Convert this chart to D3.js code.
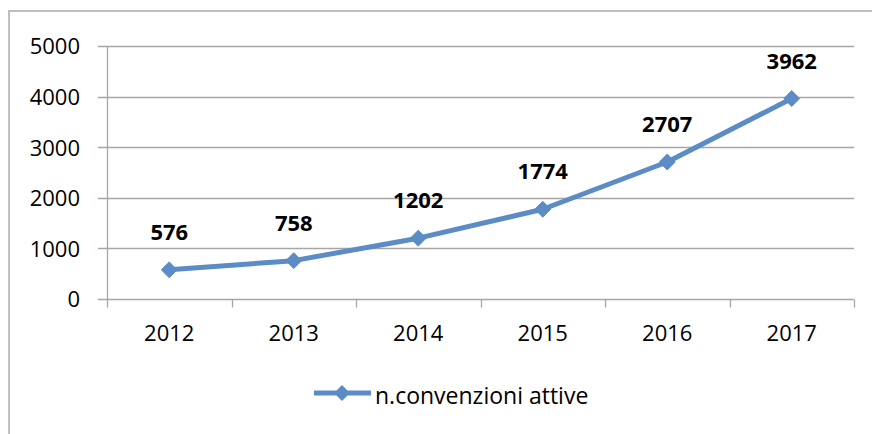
<!DOCTYPE html>
<html>
<head>
<meta charset="utf-8">
<script src="https://cdn.jsdelivr.net/npm/d3@7"></script>
<style>
  body { margin: 0; background: #fff; }
  svg { display: block; }
</style>
</head>
<body>
<div id="d3-container"></div>
<script>
// dati
const years = ["2012", "2013", "2014", "2015", "2016", "2017"];
const convenzioni = [576, 758, 1202, 1774, 2707, 3962];
const yTicks = [0, 1000, 2000, 3000, 4000, 5000];
const seriesName = "n.convenzioni attive";

const width = 872;
const height = 434;
const margin = { top: 46, bottom: 135, left: 107, right: 18 };
const color = "#5B8CC5";
const font = "'Open Sans', sans-serif";

const svg = d3.select("#d3-container")
    .append("svg")
    .attr("width", width)
    .attr("height", height);

// cornice del grafico
svg.append("rect")
    .attr("x", 9).attr("y", 11)
    .attr("width", width).attr("height", height)
    .attr("fill", "none")
    .attr("stroke", "#BFBFBF")
    .attr("stroke-width", 2);

const x = d3.scaleBand()
    .domain(years)
    .range([margin.left, width - margin.right])
    .padding(0);

const y = d3.scaleLinear()
    .domain([0, 5000])
    .range([height - margin.bottom, margin.top]);

// griglia
svg.append("g")
    .selectAll("line")
    .data(yTicks)
    .join("line")
    .attr("x1", margin.left - 9)
    .attr("x2", width - margin.right)
    .attr("y1", d => Math.round(y(d)) + 0.5)
    .attr("y2", d => Math.round(y(d)) + 0.5)
    .attr("stroke", "#A6A6A6")
    .attr("stroke-width", 1.3);

function yAxis(g) {
    g.attr("transform", `translate(${margin.left},0)`)
        .call(d3.axisLeft(y).tickValues(yTicks).tickFormat(d3.format("d")).tickSize(0).tickPadding(27))
        .call(g => g.select(".domain").attr("stroke", "#A6A6A6").attr("stroke-width", 1.3))
        .attr("font-family", font)
        .attr("font-size", "22px")
        .call(g => g.selectAll("text").attr("fill", "#000").attr("dy", "0.36em"));
}

function xAxis(g) {
    const y0 = Math.round(y(0)) + 0.5;
    g.attr("transform", `translate(0,${y0})`)
        .call(d3.axisBottom(x).tickSize(0).tickPadding(26).tickSizeOuter(0))
        .call(g => g.select(".domain").remove())
        .attr("font-family", font)
        .attr("font-size", "22px")
        .call(g => g.selectAll("text").attr("fill", "#000"));
    // tacche ai confini delle categorie
    const bounds = years.map(d => x(d)).concat([width - margin.right]);
    g.append("g")
        .selectAll("line")
        .data(bounds)
        .join("line")
        .attr("x1", d => Math.round(d) + 0.5)
        .attr("x2", d => Math.round(d) + 0.5)
        .attr("y1", 0)
        .attr("y2", 8)
        .attr("stroke", "#A6A6A6")
        .attr("stroke-width", 1.3);
}

svg.append("g").call(yAxis);
svg.append("g").call(xAxis);

const cx = d => x(d) + x.bandwidth() / 2;

const line = d3.line()
    .x((d, i) => cx(years[i]))
    .y(d => y(d));

svg.append("path")
    .datum(convenzioni)
    .attr("fill", "none")
    .attr("stroke", color)
    .attr("stroke-width", 5)
    .attr("stroke-linejoin", "round")
    .attr("d", line);

const diamond = d3.symbol().type(d3.symbolDiamond2).size(160);

svg.append("g")
    .selectAll("path")
    .data(convenzioni)
    .join("path")
    .attr("transform", (d, i) => `translate(${cx(years[i])},${y(d)})`)
    .attr("d", diamond)
    .attr("fill", color)
    .attr("stroke", color)
    .attr("stroke-width", 1);

svg.append("g")
    .selectAll("text")
    .data(convenzioni)
    .join("text")
    .attr("x", (d, i) => cx(years[i]))
    .attr("y", d => y(d) - 30)
    .attr("text-anchor", "middle")
    .attr("font-family", font)
    .attr("font-size", "22px")
    .attr("font-weight", "bold")
    .attr("fill", "#000")
    .text(d => d);

// legenda
const legend = svg.append("g").attr("transform", "translate(314,393)");
legend.append("line")
    .attr("x1", 0).attr("x2", 57)
    .attr("y1", 0).attr("y2", 0)
    .attr("stroke", color)
    .attr("stroke-width", 5);
legend.append("path")
    .attr("transform", "translate(28,0)")
    .attr("d", diamond)
    .attr("fill", color);
legend.append("text")
    .attr("x", 61)
    .attr("y", 11)
    .attr("font-family", font)
    .attr("font-size", "23px")
    .attr("fill", "#000")
    .text(seriesName);
</script>
</body>
</html>
